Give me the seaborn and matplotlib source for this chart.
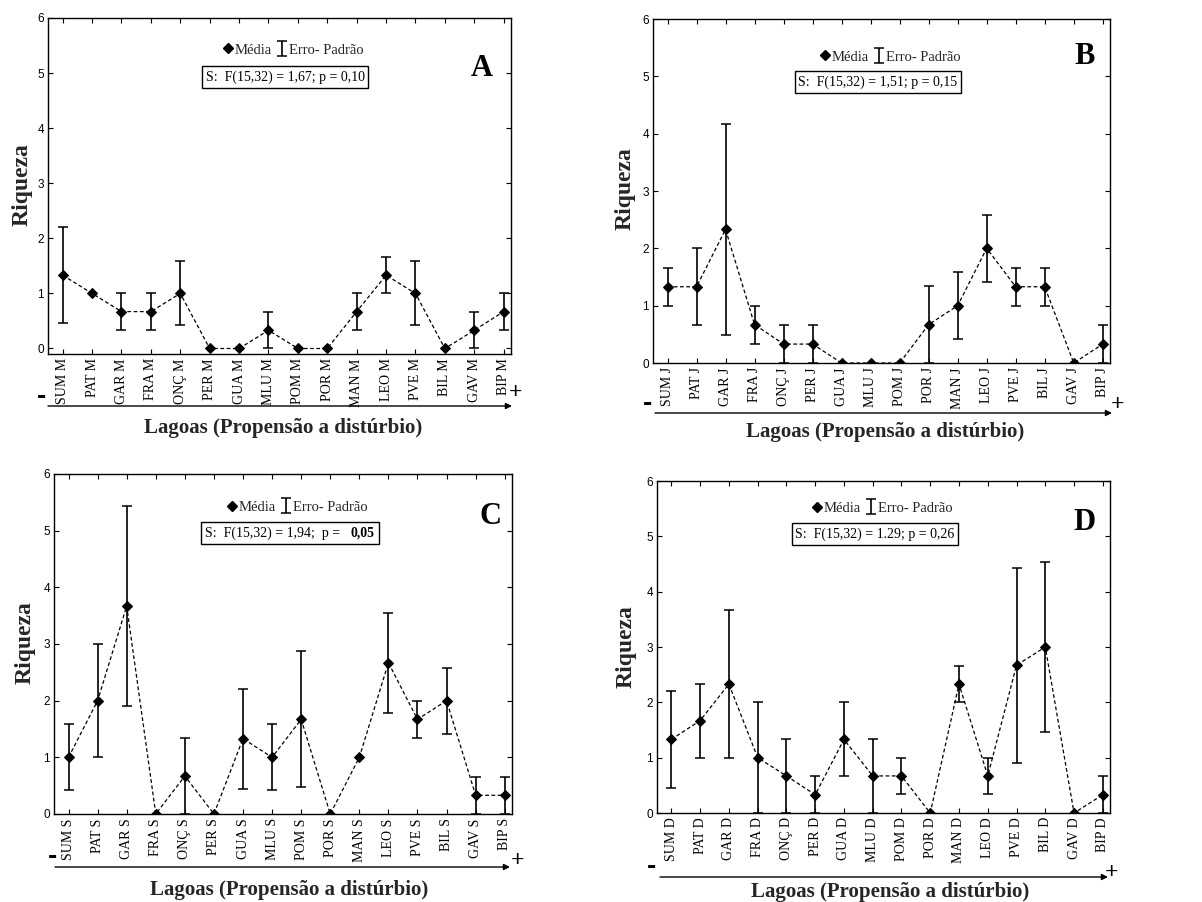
import numpy as np
import pandas as pd
import matplotlib
matplotlib.use("Agg")
import matplotlib.pyplot as plt
import seaborn as sns
from matplotlib.lines import Line2D
from matplotlib.offsetbox import TextArea, HPacker, AnnotationBbox

# Lakes ordered by disturbance propensity (low -> high)
lagoas = ["SUM", "PAT", "GAR", "FRA", "ONÇ", "PER", "GUA", "MLU",
          "POM", "POR", "MAN", "LEO", "PVE", "BIL", "GAV", "BIP"]

# Mean richness and standard error per sampling period
media_M = [1.33, 1.00, 0.67, 0.67, 1.00, 0.00, 0.00, 0.33, 0.00, 0.00, 0.67, 1.33, 1.00, 0.00, 0.33, 0.67]
erro_M = [0.87, 0.00, 0.33, 0.33, 0.58, 0.00, 0.00, 0.33, 0.00, 0.00, 0.33, 0.33, 0.58, 0.00, 0.33, 0.33]

media_J = [1.33, 1.33, 2.33, 0.67, 0.33, 0.33, 0.00, 0.00, 0.00, 0.67, 1.00, 2.00, 1.33, 1.33, 0.00, 0.33]
erro_J = [0.33, 0.67, 1.84, 0.33, 0.33, 0.33, 0.00, 0.00, 0.00, 0.67, 0.58, 0.58, 0.33, 0.33, 0.00, 0.33]

media_S = [1.00, 2.00, 3.67, 0.00, 0.67, 0.00, 1.33, 1.00, 1.67, 0.00, 1.00, 2.67, 1.67, 2.00, 0.33, 0.33]
erro_S = [0.58, 1.00, 1.76, 0.00, 0.67, 0.00, 0.88, 0.58, 1.20, 0.00, 0.00, 0.88, 0.33, 0.58, 0.33, 0.33]

media_D = [1.33, 1.67, 2.33, 1.00, 0.67, 0.33, 1.33, 0.67, 0.67, 0.00, 2.33, 0.67, 2.67, 3.00, 0.00, 0.33]
erro_D = [0.88, 0.67, 1.33, 1.00, 0.67, 0.33, 0.67, 0.67, 0.33, 0.00, 0.33, 0.33, 1.76, 1.53, 0.00, 0.33]

periodos = ["M", "J", "S", "D"]
letras = ["A", "B", "C", "D"]
estat_texto = ["S:  F(15,32) = 1,67; p = 0,10",
               "S:  F(15,32) = 1,51; p = 0,15",
               "S:  F(15,32) = 1,94;  p =   ",
               "S:  F(15,32) = 1.29; p = 0,26"]
estat_p_negrito = ["", "", "0,05", ""]

medias = [media_M, media_J, media_S, media_D]
erros = [erro_M, erro_J, erro_S, erro_D]

W, H = 1202, 902
sns.set_theme(style="ticks")
plt.rcParams["font.family"] = ["Liberation Serif", "DejaVu Serif"]
plt.rcParams["axes.edgecolor"] = "black"
plt.rcParams["axes.linewidth"] = 1.0

fig = plt.figure(figsize=(W / 100, H / 100), dpi=100)
fig.patch.set_facecolor("white")


def fpx(x, y):
    """Pixel position (from top-left) -> figure fraction."""
    return x / W, 1 - y / H


def rect_px(left, top, right, bottom):
    return [left / W, 1 - bottom / H, (right - left) / W, (bottom - top) / H]


# per-panel layout, in pixels
layout = [
    dict(rect=(48, 18, 511, 354), ymin=-0.1, ylab=(22, 185), xlab=(283, 428),
         leg=(293, 50), box=(285, 77), letter=(482, 68),
         arrow=((48, 406), (512, 406)), minus=(42, 397), plus=(516, 393)),
    dict(rect=(653, 19, 1110, 363), ymin=0.0, ylab=(625, 189), xlab=(885, 432),
         leg=(890, 57), box=(878, 82), letter=(1085, 57),
         arrow=((655, 413), (1112, 413)), minus=(648, 404), plus=(1117, 405)),
    dict(rect=(54, 474, 512, 814), ymin=0.0, ylab=(25, 643), xlab=(289, 890),
         leg=(297, 507), box=(290, 533), letter=(490, 517),
         arrow=((55, 867), (510, 867)), minus=(52, 857), plus=(517, 860)),
    dict(rect=(657, 481, 1110, 813), ymin=0.0, ylab=(626, 647), xlab=(890, 892),
         leg=(882, 508), box=(875, 534), letter=(1085, 522),
         arrow=((660, 877), (1108, 877)), minus=(652, 867), plus=(1112, 872)),
]

for i, lay in enumerate(layout):
    ax = fig.add_axes(rect_px(*lay["rect"]))
    ax.set_facecolor("white")
    pos = np.arange(len(lagoas))
    df = pd.DataFrame({"pos": pos, "media": medias[i], "erro": erros[i]})

    # dashed line joining the means, with diamond markers
    sns.lineplot(data=df, x="pos", y="media", ax=ax, color="black",
                 linestyle=(0, (3, 2)), linewidth=0.9, marker="D",
                 markersize=5, markeredgecolor="black", markerfacecolor="black")

    # standard-error bars (only where there is spread)
    com_erro = df[df["erro"] > 0]
    eb = ax.errorbar(com_erro["pos"], com_erro["media"], yerr=com_erro["erro"],
                     fmt="none", ecolor="black", elinewidth=1.2,
                     capsize=3.6, capthick=1.1)

    ax.set_xlim(-0.5, 15.25)
    ax.set_ylim(lay["ymin"], 6)
    ax.set_yticks(range(0, 7))
    ax.set_xticks(pos)
    ax.set_xticklabels([f"{l} {periodos[i]}" for l in lagoas], rotation=90,
                       fontsize=10)
    for t in ax.get_yticklabels():
        t.set_fontfamily("Liberation Sans")
        t.set_fontsize(8.5)
    ax.tick_params(direction="in", length=3.5, width=0.8, top=True,
                   right=True, colors="black", pad=3)
    for s in ax.spines.values():
        s.set_visible(True)
        s.set_color("black")

    ax.set_ylabel("Riqueza", fontsize=17, fontweight="bold")
    ax.yaxis.label.set_va("center")
    ax.yaxis.set_label_coords(*fpx(*lay["ylab"]), transform=fig.transFigure)
    ax.set_xlabel("Lagoas (Propensão a distúrbio)", fontsize=15,
                  fontweight="bold")
    ax.xaxis.label.set_va("center")
    ax.xaxis.set_label_coords(*fpx(*lay["xlab"]), transform=fig.transFigure)

    # legend: mean marker and SE bar
    media_handle = Line2D([], [], marker="D", color="black", linestyle="none",
                          markersize=5)
    ax.legend(handles=[media_handle, eb], labels=["Média", "Erro- Padrão"],
              ncol=2, frameon=False, loc="center",
              bbox_to_anchor=fpx(*lay["leg"]), bbox_transform=fig.transFigure,
              handlelength=0.7, handletextpad=0.15, columnspacing=0.3,
              borderpad=0, prop={"family": "Liberation Serif", "size": 10.5})

    # ANOVA result box
    partes = [TextArea(estat_texto[i], textprops=dict(
        family="Liberation Serif", size=10, color="black"))]
    if estat_p_negrito[i]:
        partes.append(TextArea(estat_p_negrito[i], textprops=dict(
            family="Liberation Serif", size=10, color="black",
            fontweight="bold")))
    caixa = HPacker(children=partes, align="baseline", pad=0, sep=0)
    ab = AnnotationBbox(caixa, fpx(*lay["box"]), xycoords="figure fraction",
                        box_alignment=(0.5, 0.5), frameon=True, pad=0.25,
                        bboxprops=dict(edgecolor="black", facecolor="white",
                                       linewidth=1.0))
    ax.add_artist(ab)

    # panel letter
    fig.text(*fpx(*lay["letter"]), letras[i], fontsize=22, fontweight="bold",
             ha="center", va="center", color="black")

    # disturbance gradient arrow with - and + ends
    (x0, y0), (x1, y1) = lay["arrow"]
    ax.annotate("", xy=fpx(x1, y1), xytext=fpx(x0, y0),
                xycoords="figure fraction", textcoords="figure fraction",
                annotation_clip=False,
                arrowprops=dict(arrowstyle="-|>", color="black", lw=1.0,
                                mutation_scale=9, shrinkA=0, shrinkB=0))
    fig.text(*fpx(*lay["minus"]), "-", fontsize=20, fontweight="bold",
             family="Liberation Sans", ha="center", va="center", color="black")
    fig.text(*fpx(*lay["plus"]), "+", fontsize=17, fontweight="bold",
             ha="center", va="center", color="black")

fig.savefig("out.png", dpi=100, facecolor="white")
